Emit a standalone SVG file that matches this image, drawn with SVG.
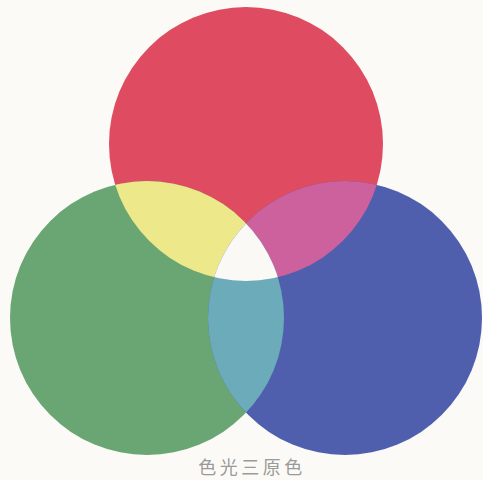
<svg xmlns="http://www.w3.org/2000/svg" width="483" height="480" viewBox="0 0 483 480">
<style>
.lbl{font-family:"Noto Sans CJK SC","Noto Sans CJK JP",sans-serif;font-size:18px;fill:#9a9a9a;letter-spacing:3.5px}
</style>
<defs>
<clipPath id="cR"><circle cx="246" cy="144" r="137"/></clipPath>
<clipPath id="cG"><circle cx="147" cy="318" r="137"/></clipPath>
<clipPath id="cB"><circle cx="345" cy="318" r="137"/></clipPath>
</defs>
<rect width="483" height="480" fill="#fbfaf6"/>
<g id="red"><circle cx="246" cy="144" r="137" fill="#df4b60"/></g>
<g id="green"><circle cx="147" cy="318" r="137" fill="#6aa673"/></g>
<g id="blue"><circle cx="345" cy="318" r="137" fill="#4f5fae"/></g>
<g id="yellow" clip-path="url(#cR)"><circle cx="147" cy="318" r="137" fill="#ede98b"/></g>
<g id="magenta" clip-path="url(#cR)"><circle cx="345" cy="318" r="137" fill="#cd619d"/></g>
<g id="cyan" clip-path="url(#cG)"><circle cx="345" cy="318" r="137" fill="#6cabb9"/></g>
<g id="white" clip-path="url(#cR)"><g clip-path="url(#cG)"><circle cx="345" cy="318" r="137" fill="#faf9f5"/></g></g>
<g id="connectors"/>
<text class="lbl" x="252" y="474" text-anchor="middle">色光三原色</text>
</svg>
